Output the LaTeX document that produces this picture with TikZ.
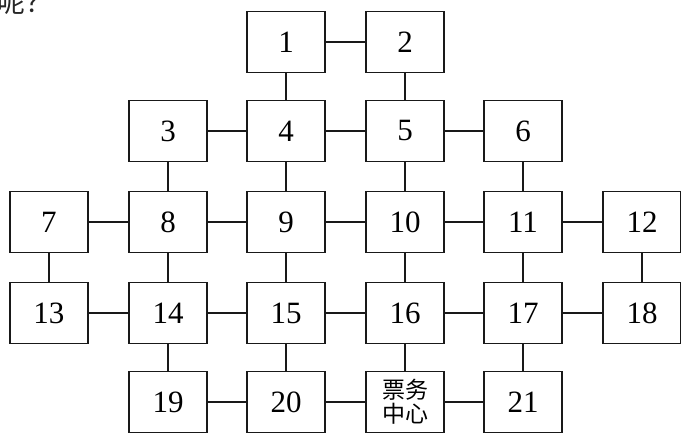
\documentclass[tikz,border=0pt]{standalone}
\usepackage{fontspec}
\setmainfont{Liberation Serif}
\newfontfamily\cjk{Noto Sans CJK SC}
\begin{document}
\begin{tikzpicture}[x=1pt,y=-1pt,
  box/.style={draw=black!90,line width=1.4pt,minimum width=78pt,minimum height=61pt,inner sep=0pt,font=\fontsize{31}{31}\selectfont},
  link/.style={draw=black!90,line width=1.2pt}]
\useasboundingbox (0,0) rectangle (681,433);
\fill[white] (0,0) rectangle (681,433);
\node[anchor=base west,inner sep=0pt,font=\cjk\fontsize{28}{28}\selectfont,text=black!85] (q) at (-3,13) {呢？};
% row 1
\node[box] (n1) at (286,42) {1};
\node[box] (n2) at (405,42) {2};
% row 2
\node[box] (n3) at (168,131) {3};
\node[box] (n4) at (286,131) {4};
\node[box] (n5) at (405,131) {5};
\node[box] (n6) at (523,131) {6};
% row 3
\node[box] (n7) at (49,222) {7};
\node[box] (n8) at (168,222) {8};
\node[box] (n9) at (286,222) {9};
\node[box] (n10) at (405,222) {10};
\node[box] (n11) at (523,222) {11};
\node[box] (n12) at (642,222) {12};
% row 4
\node[box] (n13) at (49,313) {13};
\node[box] (n14) at (168,313) {14};
\node[box] (n15) at (286,313) {15};
\node[box] (n16) at (405,313) {16};
\node[box] (n17) at (523,313) {17};
\node[box] (n18) at (642,313) {18};
% row 5
\node[box] (n19) at (168,402) {19};
\node[box] (n20) at (286,402) {20};
\node[box,align=center,font=\cjk\fontsize{23}{24}\selectfont] (pw) at (405,402) {票务\\中心};
\node[box] (n21) at (523,402) {21};
% links
\foreach \a/\b in {n1/n2,n3/n4,n4/n5,n5/n6,n7/n8,n8/n9,n9/n10,n10/n11,n11/n12,
  n13/n14,n14/n15,n15/n16,n16/n17,n17/n18,n19/n20,n20/pw,pw/n21}
  \draw[link] (\a.east) -- (\b.west);
\foreach \a/\b in {n1/n4,n2/n5,n3/n8,n4/n9,n5/n10,n6/n11,n7/n13,n8/n14,n9/n15,n10/n16,n11/n17,n12/n18,
  n14/n19,n15/n20,n16/pw,n17/n21}
  \draw[link] (\a.south) -- (\b.north);
\end{tikzpicture}
\end{document}
